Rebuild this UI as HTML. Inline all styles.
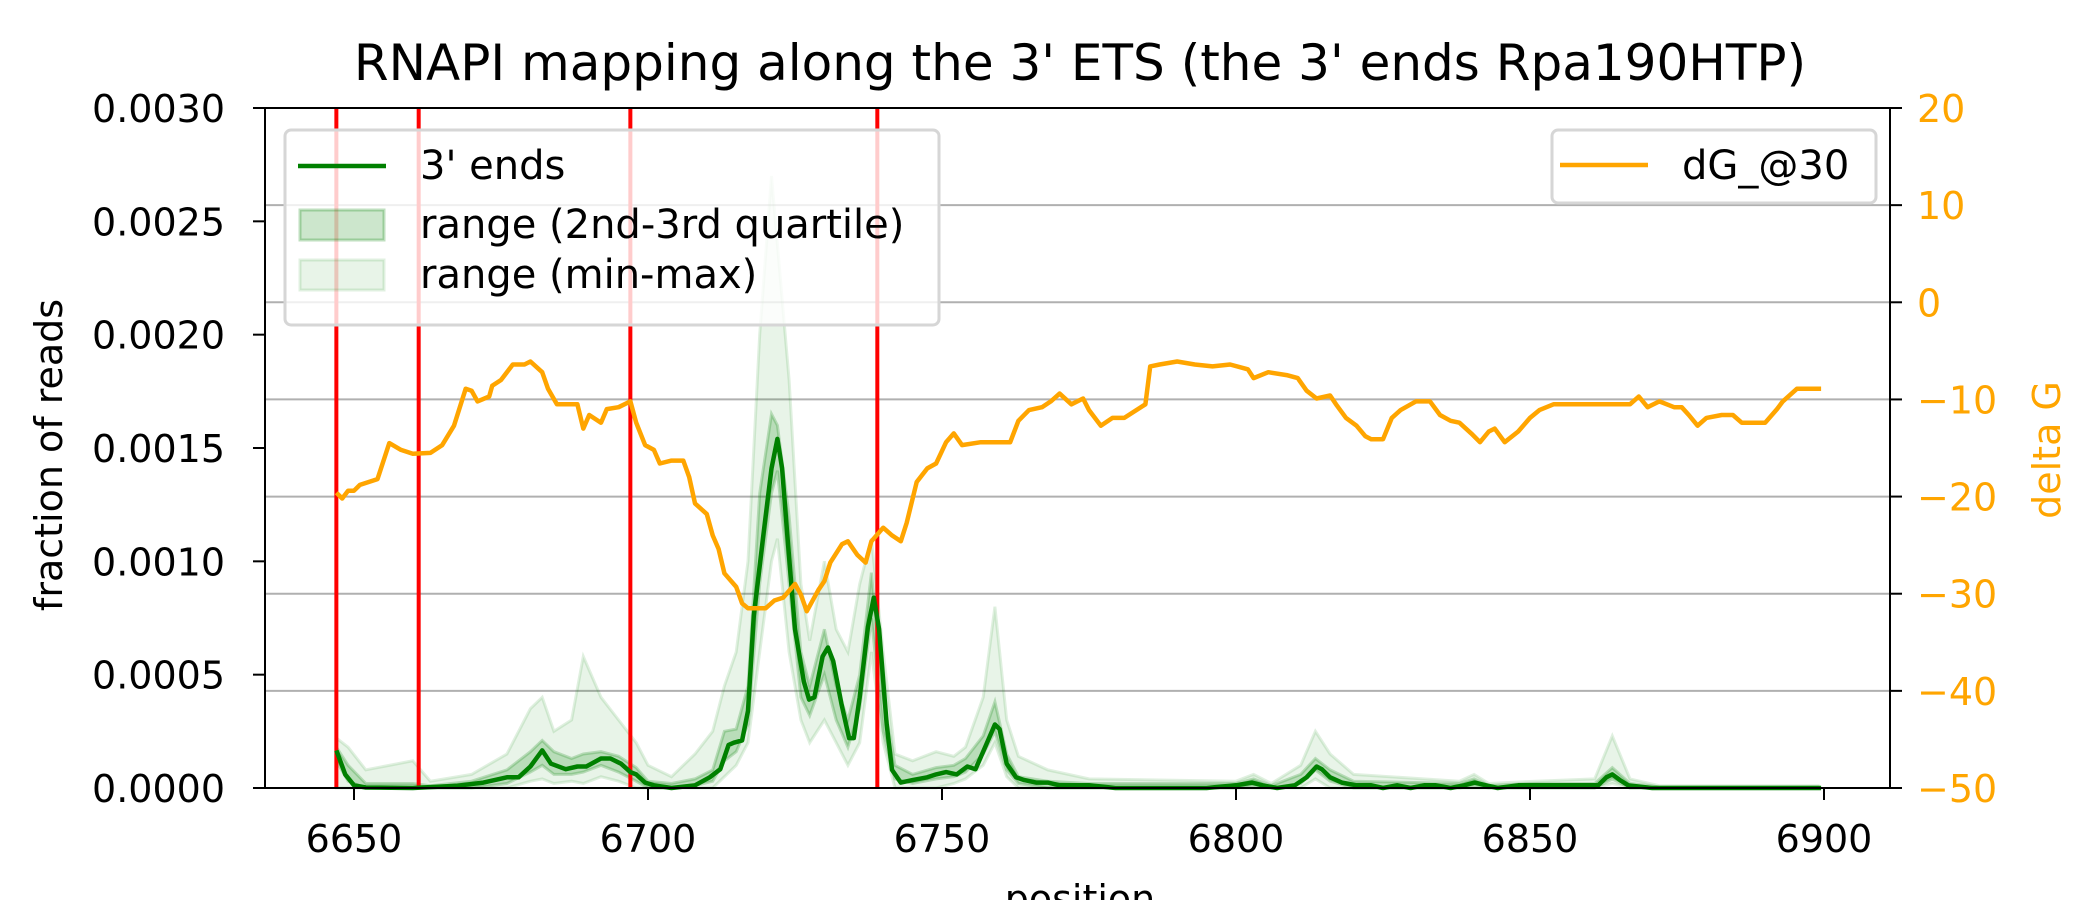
<!DOCTYPE html>
<html><head><meta charset="utf-8">
<style>
html,body{margin:0;padding:0;background:#fff;}
svg{display:block;font-family:"DejaVu Sans","Liberation Sans",sans-serif;}
</style></head>
<body>
<svg id="chart" width="2100" height="900" viewBox="0 0 2100 900"></svg>
<script>
// ---- data ----
const xTicks = [6650, 6700, 6750, 6800, 6850, 6900];
const yTicksLeft = [0, 0.0005, 0.0010, 0.0015, 0.0020, 0.0025, 0.0030];
const yTickLabelsLeft = ["0.0000","0.0005","0.0010","0.0015","0.0020","0.0025","0.0030"];
const yTicksRight = [-50,-40,-30,-20,-10,0,10,20];
const yTickLabelsRight = ["\u221250","\u221240","\u221230","\u221220","\u221210","0","10","20"];
const redLines = [6647, 6661, 6697, 6739];

const dgPos = [6647,6648,6649,6650,6651,6654,6656,6658,6660,6663,6665,6667,6669,6670,6671,6673,6673.5,6675,6677,6679,6680,6682,6683,6684.5,6688,6689,6690,6692,6693,6695,6697,6698,6699.5,6701,6702,6704,6706,6707,6708,6710,6711,6712,6713,6715,6716,6717,6720,6721.5,6723,6725,6726,6727,6729,6730,6731,6733,6734,6735.6,6737,6738,6740,6741.5,6743,6744,6745.7,6747.5,6749,6750.7,6752,6753.4,6756.6,6761.6,6763,6764.8,6767,6768.5,6770,6772,6774,6775,6777,6779,6781,6784.6,6785.4,6787,6790,6793,6796,6799,6802,6803,6805.5,6808.6,6810.5,6812,6813.7,6816,6817,6818.7,6820.5,6822,6823,6825,6826.5,6828,6830.6,6833,6834.7,6836.5,6838,6840,6841.5,6843,6844,6845.7,6848,6850,6851.6,6854,6857,6861.6,6867,6868.5,6870,6872,6874.5,6875.8,6877,6878.5,6880,6882.6,6884.5,6886,6890,6892,6893,6895.4,6897,6899.5];
const dgVal = [-19.6,-20.2,-19.4,-19.4,-18.8,-18.2,-14.5,-15.2,-15.6,-15.5,-14.7,-12.7,-8.9,-9.1,-10.2,-9.7,-8.6,-8.0,-6.4,-6.4,-6.1,-7.2,-8.9,-10.5,-10.5,-13,-11.6,-12.4,-11,-10.8,-10.2,-12.4,-14.7,-15.2,-16.6,-16.3,-16.3,-18,-20.7,-21.8,-24,-25.4,-27.9,-29.3,-31,-31.5,-31.5,-30.7,-30.4,-29,-30.1,-31.8,-29.6,-28.7,-26.8,-24.9,-24.6,-26,-26.8,-24.6,-23.2,-24,-24.6,-22.7,-18.5,-17.1,-16.6,-14.4,-13.5,-14.7,-14.4,-14.4,-12.2,-11.1,-10.8,-10.2,-9.4,-10.5,-9.9,-11.1,-12.7,-11.9,-11.9,-10.5,-6.6,-6.4,-6.1,-6.4,-6.6,-6.4,-6.9,-7.8,-7.2,-7.5,-7.8,-9.1,-9.9,-9.6,-10.5,-11.9,-12.7,-13.8,-14.1,-14.1,-11.9,-11.1,-10.2,-10.2,-11.6,-12.2,-12.4,-13.5,-14.4,-13.3,-13,-14.4,-13.3,-11.9,-11.1,-10.5,-10.5,-10.5,-10.5,-9.7,-10.8,-10.2,-10.8,-10.8,-11.6,-12.7,-11.9,-11.6,-11.6,-12.4,-12.4,-11,-10.2,-8.9,-8.9,-8.9];

const meanPos = [6647,6648.5,6650,6652,6660,6667.6,6672,6676,6678,6680,6682,6683.5,6686,6688,6689.5,6692,6693.6,6695.4,6697,6698,6699.5,6701,6704,6708,6710.5,6712.3,6713.7,6714.6,6716,6717,6718,6719.6,6721,6722,6722.8,6723.7,6725,6726.5,6727.4,6728.3,6729.7,6730.6,6731.5,6732.9,6734.2,6735,6736,6737.4,6738.4,6739.3,6740.6,6741.5,6743,6745,6747.5,6749,6750.7,6752.5,6754.3,6755.7,6757.5,6759,6759.8,6761,6762.6,6764,6766,6768,6770,6775,6779.5,6786,6795,6800,6802.7,6804.5,6807,6810,6812,6813.7,6814.6,6816,6818,6820.5,6823,6825,6827.4,6829.7,6832,6834,6836.5,6838.8,6840.6,6842.5,6844.5,6848,6852.5,6857,6861.6,6863,6864,6865.3,6866.7,6870.8,6899.5];
const meanVal = [0.000166,0.00006,0.000012,0.000002,0,0.00001,0.000024,0.000047,0.000047,0.000095,0.000166,0.000107,0.000083,0.000095,0.000095,0.00013,0.00013,0.000107,0.00007,0.00006,0.000024,0.000012,0,0.000012,0.000047,0.000083,0.00019,0.0002,0.00021,0.00034,0.00076,0.00111,0.00141,0.00154,0.00141,0.00111,0.0007,0.00047,0.00039,0.0004,0.00058,0.00062,0.00056,0.00037,0.00022,0.00022,0.0004,0.00071,0.00084,0.0007,0.00028,0.00008,0.000024,0.000035,0.000047,0.00006,0.00007,0.00006,0.000095,0.000083,0.00019,0.00028,0.00026,0.000107,0.000047,0.000035,0.000024,0.000024,0.000012,0.000012,0,0,0,0.000012,0.000024,0.000012,0,0.000012,0.000047,0.000095,0.000083,0.000047,0.000024,0.000012,0.000012,0,0.000012,0,0.000012,0.000012,0,0.000012,0.000024,0.000012,0,0.000012,0.000012,0.000012,0.000012,0.000047,0.00006,0.000035,0.000012,0,0];

const bandPos = [6647,6649,6652,6660,6663,6670,6676,6680,6682,6684,6687,6689,6692,6695,6698,6700,6704,6708,6711,6713,6715,6717,6719,6721,6722,6724,6726,6727.5,6730,6732,6734,6736,6738,6740,6742,6745,6749,6752,6754,6757,6759,6761,6763,6768,6775,6800,6803,6806,6811,6813.5,6816,6820,6838,6840.5,6843,6851,6861,6864,6867,6872,6899];
const minVal = [0,0,0,0,0,0,0,0.3,0.4,0.2,0.3,0.2,0.5,0.3,0,0,0,0,0,0.5,1.0,2.0,6.0,10,11,6,3,2,3,2,1,2,6,2,0,0,0,0.2,0.4,1,2,0.5,0,0,0,0,0,0,0,0.4,0,0,0,0,0,0,0,0.2,0,0,0];
const q1Val = [1.2,0.3,0,0,0,0,0.2,0.7,1.0,0.6,0.6,0.7,1.0,0.7,0.3,0,0,0.1,0.3,1.2,1.6,2.8,9.0,13,14,9,4,3.2,5,3,1.8,3.5,7.5,2.5,0.4,0.2,0.4,0.5,0.7,1.5,2.5,0.8,0.2,0,0,0,0.1,0,0.2,0.8,0.3,0,0,0.1,0,0,0,0.4,0,0,0];
const q3Val = [1.8,1.0,0.2,0.2,0.1,0.3,0.8,1.6,2.1,1.6,1.3,1.5,1.6,1.4,0.9,0.3,0.2,0.4,0.8,2.5,2.6,4.5,13,16.5,16,12,6,4.5,7,4.5,3,5,9.5,4,1,0.6,0.9,1,1.3,2.3,3.8,1.5,0.5,0.3,0.2,0.2,0.4,0.1,0.6,1.3,0.8,0.3,0.2,0.4,0.1,0.2,0.2,0.9,0.2,0.05,0.05];
const maxVal = [2.2,1.8,0.8,1.2,0.3,0.6,1.5,3.5,4.0,2.5,3.0,5.8,4.0,3.0,2.0,1.0,0.5,1.5,2.5,4.5,6.0,10,20,27,24,18,9,6.5,10,7,6,9,11,6,1.5,1.2,1.6,1.4,1.8,4,8,3,1.4,0.8,0.4,0.3,0.6,0.2,1,2.5,1.5,0.6,0.3,0.6,0.2,0.3,0.4,2.3,0.4,0.1,0.1];

// ---- geometry ----
const L=265, R=1890, T=108, B=788;
const xs = v => 354 + (v-6650)*(1824-354)/250;
const yl = v => B - v/0.003*(B-T);
const yr = v => B - (v+50)/70*(B-T);
const NS="http://www.w3.org/2000/svg";
const svg=document.getElementById('chart');
function mk(tag, attrs, parent){const e=document.createElementNS(NS,tag);for(const k in attrs)e.setAttribute(k,attrs[k]);(parent||svg).appendChild(e);return e;}

yTicksRight.forEach(t=>{
  const g=mk('line',{x1:L,x2:R,y1:yr(t),y2:yr(t),stroke:'#b0b0b0','stroke-width':2});
  
  
});

function bandPath(lo,hi,scale){
  let d='';
  bandPos.forEach((p,i)=>{d+=(i?'L':'M')+xs(p).toFixed(1)+','+yl(hi[i]*scale).toFixed(1);});
  for(let i=bandPos.length-1;i>=0;i--){d+='L'+xs(bandPos[i]).toFixed(1)+','+yl(lo[i]*scale).toFixed(1);}
  return d+'Z';
}
const bMM=mk('path',{d:bandPath(minVal,maxVal,1e-4),fill:'rgba(0,128,0,0.09)',stroke:'rgba(0,128,0,0.12)','stroke-width':3});


const bQ=mk('path',{d:bandPath(q1Val,q3Val,1e-4),fill:'rgba(0,128,0,0.2)',stroke:'rgba(0,128,0,0.22)','stroke-width':3});



redLines.forEach(p=>{
  const l=mk('line',{x1:xs(p),x2:xs(p),y1:T,y2:B,stroke:'#ff0000','stroke-width':4});
  
  
});

const mp=mk('polyline',{points:meanPos.map((p,i)=>xs(p).toFixed(1)+','+yl(meanVal[i]).toFixed(1)).join(' '),fill:'none',stroke:'#008000','stroke-width':4.5,'stroke-linejoin':'round'});



const dp=mk('polyline',{points:dgPos.map((p,i)=>xs(p).toFixed(1)+','+yr(dgVal[i]).toFixed(1)).join(' '),fill:'none',stroke:'#ffa500','stroke-width':4.5,'stroke-linejoin':'round'});



const fr=mk('rect',{x:L,y:T,width:R-L,height:B-T,fill:'none',stroke:'#000','stroke-width':2});



xTicks.forEach(t=>{
  const x=xs(t);
  const tl=mk('line',{x1:x,x2:x,y1:B,y2:B+12,stroke:'#000','stroke-width':2});
  
  
  const tx=mk('text',{x:x,y:B+64,'text-anchor':'middle','font-size':38,fill:'#000'});
  tx.textContent=t;
  
  
});
yTicksLeft.forEach((t,i)=>{
  const y=yl(t);
  const tl=mk('line',{x1:L-12,x2:L,y1:y,y2:y,stroke:'#000','stroke-width':2});
  
  
  const tx=mk('text',{x:L-40,y:y+14,'text-anchor':'end','font-size':38,fill:'#000'});
  tx.textContent=yTickLabelsLeft[i];
  
  
});
yTicksRight.forEach((t,i)=>{
  const y=yr(t);
  const tl=mk('line',{x1:R,x2:R+12,y1:y,y2:y,stroke:'#000','stroke-width':2});
  
  
  const tx=mk('text',{x:R+27,y:y+14,'text-anchor':'start','font-size':38,fill:'#ffa500'});
  tx.textContent=yTickLabelsRight[i];
  
  
});

svg.insertAdjacentHTML('beforeend',`
<text x="1080" y="80" text-anchor="middle" font-size="50" fill="#000">RNAPI mapping along the 3' ETS (the 3' ends Rpa190HTP)</text>
<text x="1080" y="912" text-anchor="middle" font-size="38" fill="#000">position</text>
<text transform="translate(62,455) rotate(-90)" text-anchor="middle" font-size="38" fill="#000">fraction of reads</text>
<text transform="translate(2060,450) rotate(-90)" text-anchor="middle" font-size="38" fill="#ffa500">delta G</text>
<g>
  <rect x="285" y="130" width="654" height="195" rx="6" fill="rgba(255,255,255,0.8)" stroke="#d6d6d6" stroke-width="3"/>
  <g>
    <line x1="298" x2="386" y1="166" y2="166" stroke="#008000" stroke-width="4.5"/>
    <text x="420" y="179" font-size="40" fill="#000">3' ends</text>
  </g>
  <g>
    <rect x="300" y="210" width="84" height="30" fill="rgba(0,128,0,0.2)" stroke="rgba(0,128,0,0.25)" stroke-width="3"/>
    <text x="420" y="238" font-size="40" fill="#000">range (2nd-3rd quartile)</text>
  </g>
  <g>
    <rect x="300" y="260" width="84" height="30" fill="rgba(0,128,0,0.09)" stroke="rgba(0,128,0,0.12)" stroke-width="3"/>
    <text x="420" y="288" font-size="40" fill="#000">range (min-max)</text>
  </g>
</g>
<g>
  <rect x="1552" y="130" width="324" height="73" rx="6" fill="rgba(255,255,255,0.8)" stroke="#d6d6d6" stroke-width="3"/>
  <g>
    <line x1="1560" x2="1648" y1="165" y2="165" stroke="#ffa500" stroke-width="4.5"/>
    <text x="1682" y="179" font-size="40" fill="#000">dG_@30</text>
  </g>
</g>`);
</script>
</body></html>
